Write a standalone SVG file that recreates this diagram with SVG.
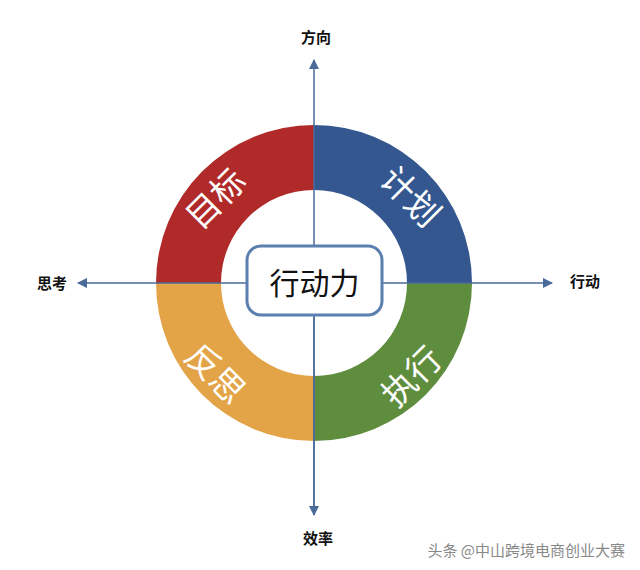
<svg xmlns="http://www.w3.org/2000/svg" width="640" height="570" viewBox="0 0 640 570">
<style>
text{font-family:"Noto Sans CJK SC","Noto Sans",sans-serif}
.seg{fill:#fff;font-size:34px;text-anchor:middle;dominant-baseline:central}
.ax{stroke:#4a6a9a;stroke-width:1.5;fill:none}
.lbl{font-size:15px;font-weight:bold;fill:#111;text-anchor:middle;dominant-baseline:central}
</style>
<defs><marker id="ah" viewBox="0 0 10 10" refX="9" refY="5" markerWidth="7" markerHeight="7" orient="auto"><path d="M0,0L10,5L0,10z" fill="#4a6a9a"/></marker></defs>
<rect width="640" height="570" fill="#fff"/>
<g id="ring">
<g id="n-mubiao"><path d="M156,283A158,158 0 0 1 314,125L314,190A93,93 0 0 0 221,283Z" fill="#b02a2a"/><text class="seg" x="214" y="197" transform="rotate(-45 214 197)">目标</text></g>
<g id="n-jihua"><path d="M314,125A158,158 0 0 1 472,283L407,283A93,93 0 0 0 314,190Z" fill="#34578f"/><text class="seg" x="412" y="195" transform="rotate(45 412 195)">计划</text></g>
<g id="n-zhixing"><path d="M472,283A158,158 0 0 1 314,441L314,376A93,93 0 0 0 407,283Z" fill="#5f8d3e"/><text class="seg" x="410" y="375" transform="rotate(-45 410 375)">执行</text></g>
<g id="n-fansi"><path d="M314,441A158,158 0 0 1 156,283L221,283A93,93 0 0 0 314,376Z" fill="#e3a448"/><text class="seg" x="217" y="372" transform="rotate(45 217 372)">反思</text></g>
</g>
<g id="connectors">
<line class="ax" x1="314" y1="515" x2="314" y2="60" marker-end="url(#ah)"/>
<line class="ax" x1="314" y1="283" x2="314" y2="515" marker-end="url(#ah)"/>
<line class="ax" x1="314" y1="283" x2="552" y2="283" marker-end="url(#ah)"/>
<line class="ax" x1="314" y1="283" x2="78" y2="283" marker-end="url(#ah)"/>
</g>
<g id="n-center"><rect x="247" y="246" width="135" height="69" rx="14" fill="#fff" stroke="#5b7fae" stroke-width="3"/><text x="314.5" y="281" font-size="30" text-anchor="middle" dominant-baseline="central" fill="#111">行动力</text></g>
<g id="labels">
<text class="lbl" x="316" y="36">方向</text>
<text class="lbl" x="585" y="280">行动</text>
<text class="lbl" x="52" y="282">思考</text>
<text class="lbl" x="318" y="537">效率</text>
<text x="625" y="549" font-size="15" fill="#888" text-anchor="end" dominant-baseline="central">头条 @中山跨境电商创业大赛</text>
</g>
</svg>
